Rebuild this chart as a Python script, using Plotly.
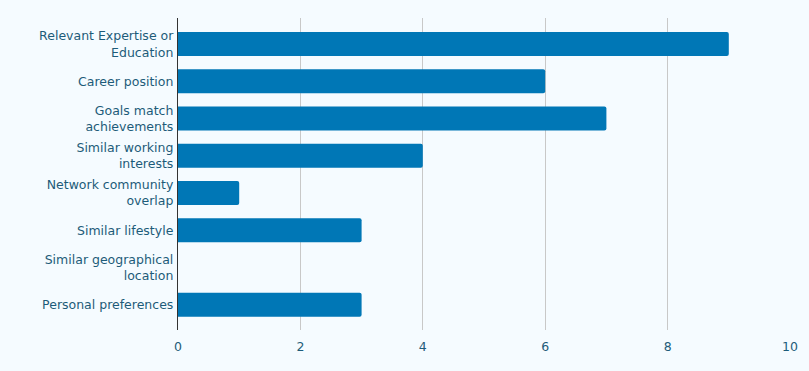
import plotly.graph_objects as go

categories = [
    "Relevant Expertise or<br>Education",
    "Career position",
    "Goals match<br>achievements",
    "Similar working<br>interests",
    "Network community<br>overlap",
    "Similar lifestyle",
    "Similar geographical<br>location",
    "Personal preferences",
]
values = [9, 6, 7, 4, 1, 3, 0, 3]
x_ticks = [0, 2, 4, 6, 8, 10]

text_color = "#1d5b79"
bg = "#f5fbff"

fig = go.Figure(go.Bar(
    x=values, y=categories, orientation="h",
    marker=dict(color="#0077b6", cornerradius=2, line=dict(width=0)),
    hoverinfo="x+y",
))

fig.update_layout(
    width=809, height=371,
    margin=dict(l=178, r=19, t=18, b=41),
    paper_bgcolor=bg, plot_bgcolor=bg,
    font=dict(family="DejaVu Sans", size=12.5, color=text_color),
    bargap=0.357,
    showlegend=False,
    xaxis=dict(
        range=[0, 10], tickvals=x_ticks, showgrid=True, gridcolor="#c8c8c8",
        gridwidth=1, zeroline=False, showline=False, ticks="",
        ticklabelstandoff=7,
        tickfont=dict(size=12.5, color=text_color),
    ),
    yaxis=dict(
        range=[7.68, -0.7], showgrid=False, zeroline=False,
        showline=True, linecolor="#333333", linewidth=1.3, ticks="",
        ticklabelstandoff=1,
        tickfont=dict(size=12.5, color=text_color),
    ),
)

fig.write_html(
    "out.html",
    config={"displayModeBar": False},
    post_script="document.body.style.margin='0';document.body.style.background='%s';" % bg,
)
